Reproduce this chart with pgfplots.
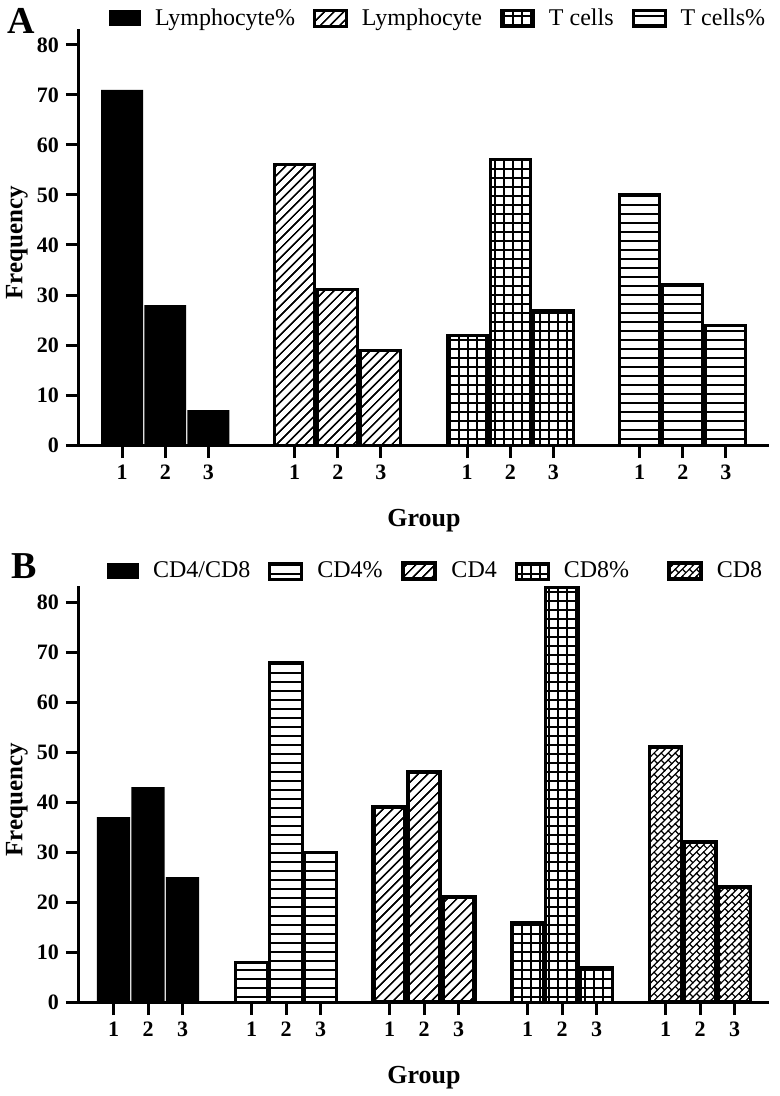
\documentclass[border=0pt]{standalone}
\usepackage{fontspec}
\setmainfont{Liberation Serif}
\usepackage{pgfplots}
\pgfplotsset{compat=1.18}
\usetikzlibrary{patterns,patterns.meta}

\tikzdeclarepattern{name=Hl, type=uncolored,
  bounding box={(-1pt,-1pt) and (2pt,1pt)}, tile size={(1pt,4.5pt)},
  code={\draw[line width=0.7pt] (-1pt,0pt) -- (2pt,0pt);}}
\tikzdeclarepattern{name=Gr, type=uncolored,
  bounding box={(-1pt,-1pt) and (5.5pt,5.5pt)}, tile size={(4.5pt,4.5pt)},
  code={\draw[line width=0.7pt] (-1pt,0pt) -- (5.5pt,0pt) (0pt,-1pt) -- (0pt,5.5pt);}}
\tikzdeclarepattern{name=Dl, type=uncolored,
  bounding box={(-1pt,-1pt) and (2pt,1pt)}, tile size={(1pt,3.4pt)},
  tile transformation={rotate=45},
  code={\draw[line width=0.6pt] (-1pt,0pt) -- (2pt,0pt);}}
\tikzdeclarepattern{name=Br, type=uncolored,
  bounding box={(-0.5pt,-0.5pt) and (5.5pt,5.5pt)}, tile size={(5pt,5pt)},
  tile transformation={rotate=45},
  code={\draw[line width=0.6pt] (-0.5pt,0pt) -- (5.5pt,0pt) (-0.5pt,2.5pt) -- (5.5pt,2.5pt) (0pt,0pt) -- (0pt,2.5pt) (2.5pt,2.5pt) -- (2.5pt,5pt);}}

\pgfplotsset{
  solidbar/.style={ybar, bar shift=0pt, bar width=0.97, fill=black, draw=none,
    legend image code/.code={\fill[black] (0pt,-4pt) rectangle (16pt,4pt);}},
  patbar/.style 2 args={ybar, bar shift=0pt, bar width=0.93, draw=black, line width=#2, pattern=#1,
    legend image code/.code={\draw[##1] (0pt,-4pt) rectangle (16pt,4pt);}},
  common/.style={
    scale only axis, width=345pt, height=208pt,
    ymin=0, ymax=83.2, ytick={0,10,...,80},
    axis x line=bottom, axis y line=left,
    axis line style={-, line width=1.5pt},
    tick align=outside, major tick length=6.5pt,
    major tick style={line width=1.5pt, black},
    /pgf/number format/assume math mode=true,
    ticklabel style={font=\bfseries\fontsize{11}{13}\selectfont},
    ylabel={Frequency}, xlabel={Group},
    ylabel style={font=\bfseries\fontsize{12.5}{14}\selectfont, at={(axis description cs:-0.09,0.486)}, anchor=center},
    xlabel style={font=\bfseries\fontsize{13}{15}\selectfont, at={(axis description cs:0.5,-0.183)}, anchor=center},
    legend columns=-1,
    legend style={draw=none, fill=none, inner sep=0pt, outer sep=0pt, anchor=west,
      nodes={inner sep=0pt},
      /tikz/every odd column/.append style={column sep=7pt},
      /tikz/every even column/.append style={column sep=9pt}},
  }
}

\begin{document}
\begin{tikzpicture}
\path[use as bounding box] (0,0) rectangle (390pt,-548pt);

\begin{axis}[common,
  at={(39.5pt,-222.5pt)}, anchor=south west,
  xmin=-1, xmax=15,
  xtick={0,1,2,4,5,6,8,9,10,12,13,14},
  xticklabels={1,2,3,1,2,3,1,2,3,1,2,3},
  legend style={at={(axis description cs:0.0435,1.026)}, font=\fontsize{12}{14}\selectfont},
]
\addplot[solidbar] coordinates {(0,71) (1,28) (2,7)};
\addlegendentry{Lymphocyte\%}
\addplot[patbar={Dl}{1.5pt}] coordinates {(4,56) (5,31) (6,19)};
\addlegendentry{Lymphocyte}
\addplot[patbar={Gr}{1.5pt}] coordinates {(8,22) (9,57) (10,27)};
\addlegendentry{T cells}
\addplot[patbar={Hl}{1.5pt}] coordinates {(12,50) (13,32) (14,24)};
\addlegendentry{T cells\%}
\end{axis}

\begin{axis}[common,
  at={(39.5pt,-501pt)}, anchor=south west,
  xmin=-1, xmax=19,
  xtick={0,1,2,4,5,6,8,9,10,12,13,14,16,17,18},
  xticklabels={1,2,3,1,2,3,1,2,3,1,2,3,1,2,3},
  legend style={at={(axis description cs:0.0406,1.036)}, font=\fontsize{12}{14}\selectfont},
]
\addplot[solidbar] coordinates {(0,37) (1,43) (2,25)};
\addlegendentry{CD4/CD8}
\addplot[patbar={Hl}{1.5pt}] coordinates {(4,8) (5,68) (6,30)};
\addlegendentry{CD4\%}
\addplot[patbar={Dl}{2.4pt}] coordinates {(8,39) (9,46) (10,21)};
\addlegendentry{CD4}
\addplot[patbar={Gr}{1.5pt}] coordinates {(12,16) (13,83) (14,7)};
\addlegendentry{CD8\%\hspace*{10pt}}
\addplot[patbar={Br}{1.8pt}] coordinates {(16,51) (17,32) (18,23)};
\addlegendentry{CD8}
\end{axis}

\node[font=\bfseries\fontsize{19}{21}\selectfont] at (10.5pt,-10.5pt) {A};
\node[font=\bfseries\fontsize{19}{21}\selectfont] at (12pt,-283pt) {B};
\end{tikzpicture}
\end{document}
